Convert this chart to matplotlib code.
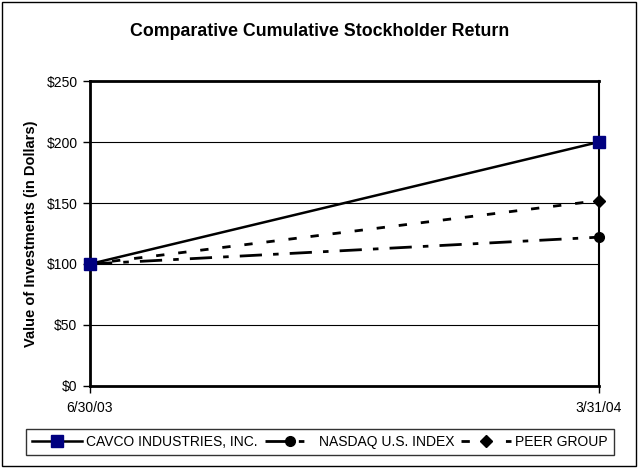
#!/usr/bin/env python3
# comparative cumulative stockholder return chart
import matplotlib
matplotlib.use('Agg')
import matplotlib.pyplot as plt
from matplotlib.patches import Rectangle

### data
dates = ['6/30/03', '3/31/04']
cavco = [100, 200]
nasdaq = [100, 122]
peer = [100, 152]
yticks = [0, 50, 100, 150, 200, 250]

plt.rcParams['font.family'] = ['Liberation Sans', 'DejaVu Sans']

fig = plt.figure(figsize=(6.4, 4.71), dpi=100)
ax = fig.add_axes([0.1406, 0.1805, 0.7953, 0.6475])

x = list(range(len(dates)))
ax.plot(x, cavco, color='black', lw=1.8, marker='s', ms=8, clip_on=False, zorder=5,
        mfc='#000080', mec='#000080', label='CAVCO INDUSTRIES, INC.')
ax.plot(x, nasdaq, color='black', lw=2, dashes=(8, 4, 2, 4), marker='o', ms=7, clip_on=False,
        mfc='black', mec='black', label='NASDAQ U.S. INDEX', zorder=4)
ax.plot(x, peer, color='black', lw=2, dashes=(3, 5), marker='D', ms=6, clip_on=False,
        mfc='black', mec='black', label='PEER GROUP', zorder=4)

ax.set_xlim(0, 1)
ax.set_ylim(0, 250)
ax.set_xticks(x)
ax.set_xticklabels(dates, fontsize=10)
ax.set_yticks(yticks)
ax.set_yticklabels(['$' + str(v) for v in yticks], fontsize=10)
for v in yticks[1:-1]:
    ax.axhline(v, color='black', lw=0.8, zorder=0)

ax.tick_params(axis='y', direction='out', length=5, width=1, pad=4)
ax.tick_params(axis='x', direction='out', length=5, width=1, pad=6)
ax.spines['left'].set_linewidth(2)
ax.spines['bottom'].set_linewidth(2)
ax.spines['top'].set_linewidth(2)
ax.spines['right'].set_linewidth(1.5)

ax.set_ylabel('Value of Investments (in Dollars)', fontsize=10.5, fontweight='bold', labelpad=6)
fig.text(0.5, 0.934, 'Comparative Cumulative Stockholder Return', ha='center', va='center',
         fontsize=12.8, fontweight='bold')

leg = fig.legend(loc='center', bbox_to_anchor=(0.5, 0.0615), ncol=3, fontsize=10,
                 frameon=True, fancybox=False, edgecolor='black', handlelength=3.6,
                 columnspacing=0.5, handletextpad=0.3, borderpad=0.4, borderaxespad=0)
leg.get_frame().set_linewidth(1)

# outer border
fig.patches.append(Rectangle((0.003, 0.01), 0.99, 0.985, transform=fig.transFigure,
                             fill=False, edgecolor='black', lw=1))

fig.savefig('out.png', dpi=100)
